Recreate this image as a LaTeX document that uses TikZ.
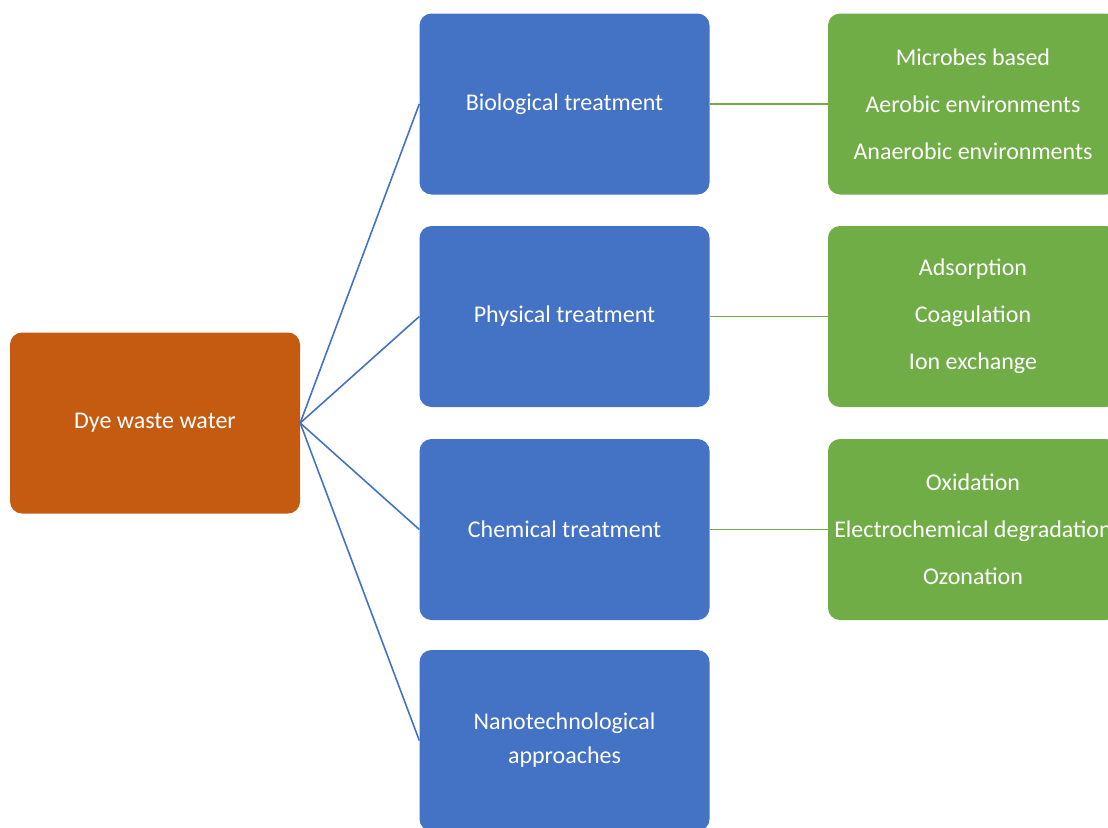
\documentclass[tikz,border=0pt]{standalone}
\usepackage{fontspec}
\setmainfont{Carlito}
\definecolor{cblue}{HTML}{4472C4}
\definecolor{corange}{HTML}{C55A11}
\definecolor{cgreen}{HTML}{70AD47}
\tikzset{
  box/.style={rounded corners=12pt, minimum width=290pt, minimum height=181pt, text=white, align=center, inner sep=0pt, font=\fontsize{24}{34}\selectfont},
  bluebox/.style={box, fill=cblue},
  greenbox/.style={box, fill=cgreen, font=\fontsize{24}{47}\selectfont},
  orangebox/.style={box, fill=corange},
  blueline/.style={draw=cblue, line width=1.6pt},
  greenline/.style={draw=cgreen, line width=1.8pt}
}
\begin{document}
\begin{tikzpicture}[x=1pt,y=-1pt]
\useasboundingbox (0,0) rectangle (1108,827);
\clip (0,0) rectangle (1108,827);
\node[orangebox] (dye) at (155,423) {Dye waste water};
\node[bluebox] (bio) at (564.5,104) {Biological treatment};
\node[bluebox] (phy) at (564.5,316.5) {Physical treatment};
\node[bluebox] (che) at (564.5,529.5) {Chemical treatment};
\node[bluebox] (nano) at (564.5,740.5) {Nanotechnological\\approaches};
\node[greenbox] (g1) at (973,104) {Microbes based\\Aerobic environments\\Anaerobic environments};
\node[greenbox] (g2) at (973,316.5) {Adsorption\\Coagulation\\Ion exchange};
\node[greenbox] (g3) at (973,529.5) {Oxidation\\Electrochemical degradation\\Ozonation};
\draw[blueline] (dye.east) -- (bio.west);
\draw[blueline] (dye.east) -- (phy.west);
\draw[blueline] (dye.east) -- (che.west);
\draw[blueline] (dye.east) -- (nano.west);
\draw[greenline] (bio.east) -- (g1.west);
\draw[greenline] (phy.east) -- (g2.west);
\draw[greenline] (che.east) -- (g3.west);
\end{tikzpicture}
\end{document}
